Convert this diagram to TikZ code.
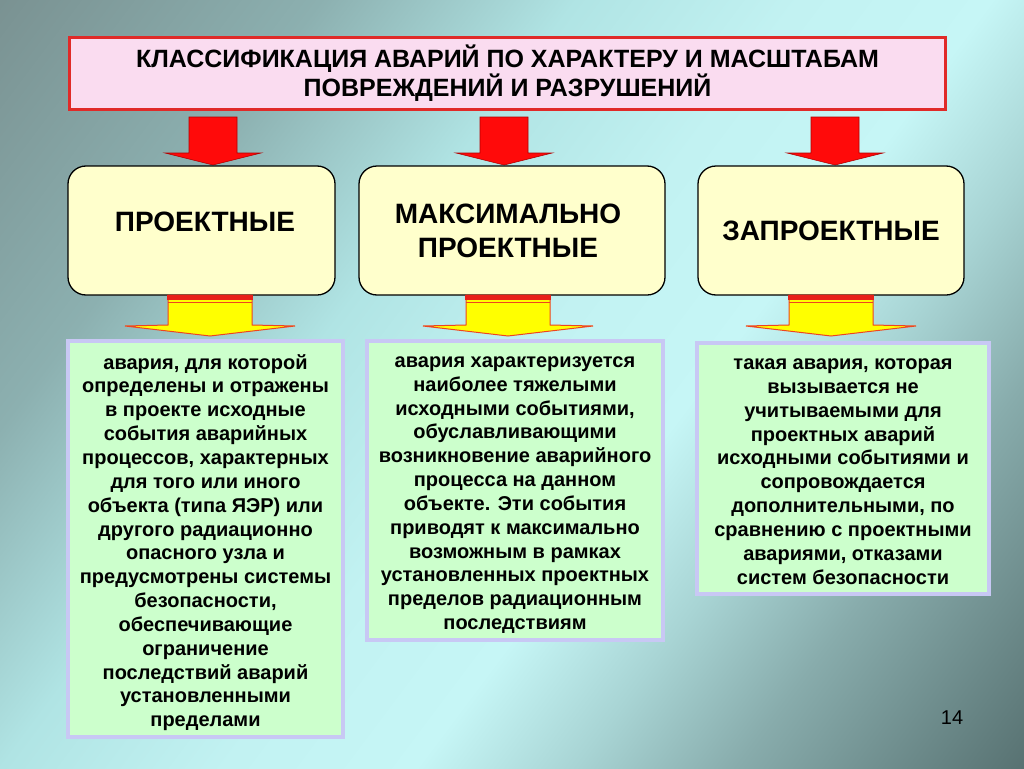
\documentclass[tikz,border=0pt]{standalone}
\usepackage{fontspec}
\setmainfont{Liberation Sans}
\definecolor{bgz}{HTML}{7A9292}
\definecolor{bga}{HTML}{8CB0B0}
\definecolor{bgb}{HTML}{B0E4E4}
\definecolor{bgc}{HTML}{C2F2F2}
\definecolor{bgd}{HTML}{C6F6F6}
\definecolor{bge}{HTML}{A8D4D4}
\definecolor{bgf}{HTML}{88ACAC}
\definecolor{bgg}{HTML}{587272}
\definecolor{titlefill}{HTML}{FADCF0}
\definecolor{titleline}{HTML}{E02A28}
\definecolor{catfill}{HTML}{FFFFCC}
\definecolor{greenfill}{HTML}{CCFFCC}
\definecolor{lavender}{HTML}{C8C8F4}
\definecolor{arrred}{HTML}{FF0A0A}
\definecolor{arrdark}{HTML}{B00000}
\definecolor{arryel}{HTML}{FFFF00}
\definecolor{arredge}{HTML}{EE4420}
\definecolor{arrband}{HTML}{E8201A}
\pgfdeclarehorizontalshading{bgshade}{100bp}{color(0bp)=(bgz); color(25bp)=(bgz); color(35bp)=(bga); color(43bp)=(bgb); color(50bp)=(bgc); color(56bp)=(bgd); color(61bp)=(bge); color(66bp)=(bgf); color(75bp)=(bgg); color(100bp)=(bgg)}
\tikzset{
  titlebox/.style={draw=titleline, fill=titlefill, line width=3pt, minimum width=876pt, minimum height=71pt, align=center, inner sep=0pt, font=\fontsize{25}{29}\selectfont\bfseries},
  catbox/.style={draw=black, fill=catfill, line width=1.3pt, rounded corners=18pt, inner sep=0pt},
  catlabel/.style={align=center, inner sep=0pt, font=\fontsize{28}{34}\selectfont\bfseries},
  greenbox/.style={draw=lavender, fill=greenfill, line width=4pt, align=center, inner sep=0pt, font=\fontsize{20}{23.85}\selectfont\bfseries},
  redarr/.style={fill=arrred, draw=arrdark, line width=0.6pt},
  yelarr/.style={fill=arryel, draw=arredge, line width=1pt},
}
\newcommand\RedArr[1]{\draw[redarr] (#1-24,117) -- (#1+24,117) -- (#1+24,153) -- (#1+48,153) -- (#1,165) -- (#1-48,153) -- (#1-24,153) -- cycle;}
\newcommand\YelArr[1]{%
  \draw[yelarr] (#1-42,295) -- (#1+42,295) -- (#1+42,325) -- (#1+85,326) -- (#1,336) -- (#1-85,326) -- (#1-42,325) -- cycle;
  \fill[arrband] (#1-43,294.5) rectangle (#1+43,300);
  \draw[arredge, line width=0.8pt] (#1-42,302.5) -- (#1+42,302.5);}
\begin{document}
\begin{tikzpicture}[x=1pt, y=-1pt]
\useasboundingbox (0,0) rectangle (1024,768);
\begin{scope}
  \clip (0,0) rectangle (1024,768);
  \shade[shading=bgshade, shading angle=-36.87] (-128,-256) rectangle (1152,1024);
\end{scope}
% title
\node[titlebox] (title) at (507.5,73.5) {КЛАССИФИКАЦИЯ АВАРИЙ ПО ХАРАКТЕРУ И МАСШТАБАМ\\ПОВРЕЖДЕНИЙ И РАЗРУШЕНИЙ};
% red arrows
\RedArr{213}
\RedArr{504}
\RedArr{835}
% category boxes
\node[catbox, minimum width=267pt, minimum height=129pt] (c1) at (201.5,230.5) {};
\node[catbox, minimum width=306pt, minimum height=129pt] (c2) at (512,230.5) {};
\node[catbox, minimum width=266pt, minimum height=129pt] (c3) at (831,230.5) {};
\node[catlabel] (l1) at (205,222) {ПРОЕКТНЫЕ};
\node[catlabel] (l2) at (508,231) {МАКСИМАЛЬНО\\ПРОЕКТНЫЕ};
\node[catlabel] (l3) at (831,231) {ЗАПРОЕКТНЫЕ};
% yellow arrows
\YelArr{210}
\YelArr{508}
\YelArr{831}
% description boxes
\node[greenbox, minimum width=275pt, minimum height=396pt] (g1) at (205.5,539) {\rule{0pt}{22pt}авария, для которой\\определены и отражены\\в проекте исходные\\события аварийных\\процессов, характерных\\для того или иного\\объекта (типа ЯЭР) или\\другого радиационно\\опасного узла и\\предусмотрены системы\\безопасности,\\обеспечивающие\\ограничение\\последствий аварий\\установленными\\пределами};
\node[greenbox, minimum width=296pt, minimum height=299pt] (g2) at (515,490.5) {\rule{0pt}{20pt}авария характеризуется\\наиболее тяжелыми\\исходными событиями,\\обуславливающими\\возникновение аварийного\\процесса на данном\\объекте. Эти события\\приводят к максимально\\возможным в рамках\\установленных проектных\\пределов радиационным\\последствиям};
\node[greenbox, minimum width=292pt, minimum height=251pt] (g3) at (843,468.5) {\rule{0pt}{17pt}такая авария, которая\\вызывается не\\учитываемыми для\\проектных аварий\\исходными событиями и\\сопровождается\\дополнительными, по\\сравнению с проектными\\авариями, отказами\\систем безопасности};
\node[font=\fontsize{20}{24}\selectfont] (pg) at (952,718) {14};
\end{tikzpicture}
\end{document}
